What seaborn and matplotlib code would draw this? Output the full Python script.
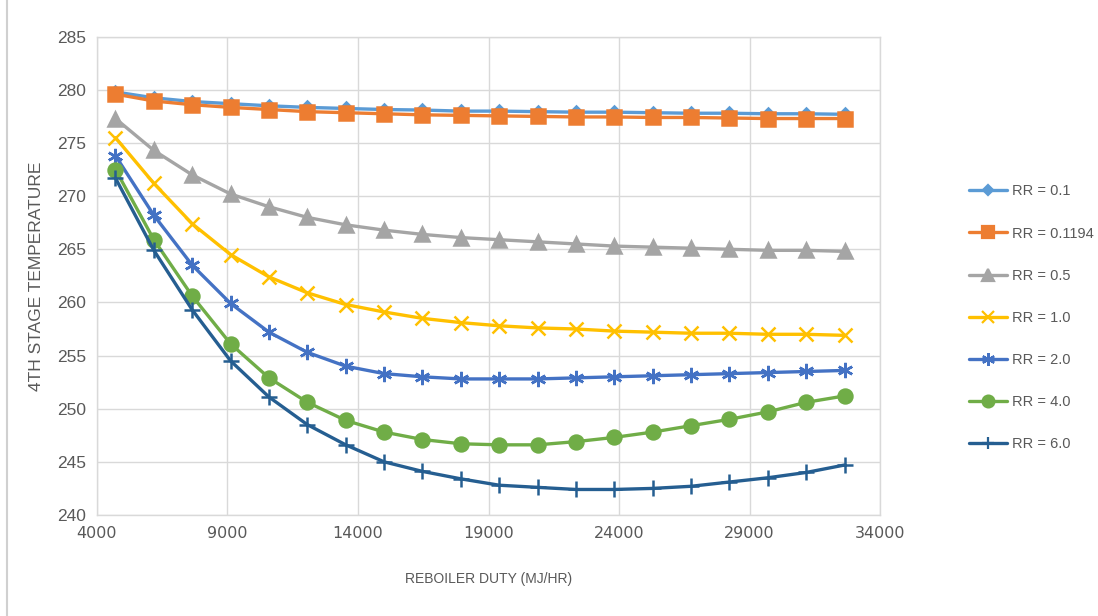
import matplotlib
matplotlib.use("Agg")
import matplotlib.pyplot as plt
from matplotlib.lines import Line2D
import pandas as pd
import seaborn as sns

sns.set_theme(style="white")
plt.rcParams["font.family"] = ["Liberation Sans", "DejaVu Sans"]

# reboiler duty (MJ/hr)
duty = [4710, 6180, 7650, 9120, 10590, 12060, 13530, 15000, 16470, 17940,
        19410, 20880, 22350, 23820, 25290, 26760, 28230, 29700, 31170, 32640]

rr_01 = [279.8, 279.25, 278.9, 278.7, 278.5, 278.35, 278.25, 278.15, 278.1, 278.0,
         278.0, 277.95, 277.9, 277.9, 277.85, 277.8, 277.8, 277.75, 277.75, 277.7]
rr_01194 = [279.6, 278.95, 278.6, 278.35, 278.15, 277.95, 277.85, 277.75, 277.65, 277.6,
            277.55, 277.5, 277.45, 277.45, 277.4, 277.4, 277.35, 277.3, 277.3, 277.3]
rr_05 = [277.3, 274.3, 272.0, 270.2, 269.0, 268.0, 267.3, 266.8, 266.4, 266.1,
         265.9, 265.7, 265.5, 265.3, 265.2, 265.1, 265.0, 264.9, 264.9, 264.8]
rr_1 = [275.5, 271.2, 267.4, 264.5, 262.4, 260.9, 259.8, 259.1, 258.5, 258.1,
        257.8, 257.6, 257.5, 257.3, 257.2, 257.1, 257.1, 257.0, 257.0, 256.9]
rr_2 = [273.8, 268.2, 263.5, 259.9, 257.2, 255.3, 254.0, 253.3, 253.0, 252.8,
        252.8, 252.8, 252.9, 253.0, 253.1, 253.2, 253.3, 253.4, 253.5, 253.6]
rr_4 = [272.5, 265.9, 260.6, 256.1, 252.9, 250.6, 248.9, 247.8, 247.1, 246.7,
        246.6, 246.6, 246.9, 247.3, 247.8, 248.4, 249.0, 249.7, 250.6, 251.2]
rr_6 = [271.7, 264.9, 259.3, 254.5, 251.1, 248.5, 246.6, 245.0, 244.1, 243.4,
        242.8, 242.6, 242.4, 242.4, 242.5, 242.7, 243.1, 243.5, 244.0, 244.7]

labels = ["RR = 0.1", "RR = 0.1194", "RR = 0.5", "RR = 1.0", "RR = 2.0", "RR = 4.0", "RR = 6.0"]
series = [rr_01, rr_01194, rr_05, rr_1, rr_2, rr_4, rr_6]
colors = ["#5B9BD5", "#ED7D31", "#A5A5A5", "#FFC000", "#4472C4", "#70AD47", "#255E91"]
markers = ["D", "s", "^", "x", (6, 2, 0), "o", "+"]
msizes = [6, 10, 10, 10, 11, 10, 11]

df = pd.DataFrame({lab: vals for lab, vals in zip(labels, series)})
df["duty"] = duty
long_df = df.melt(id_vars="duty", var_name="series", value_name="temp")

fig = plt.figure(figsize=(10.98, 6.16), dpi=100)
ax = fig.add_axes([0.0883, 0.164, 0.7132, 0.7764])

handles = []
for lab, col, mk, ms in zip(labels, colors, markers, msizes):
    sub = long_df[long_df["series"] == lab]
    sns.lineplot(data=sub, x="duty", y="temp", ax=ax, color=col, linewidth=2.4,
                 marker=mk, markersize=ms, markeredgewidth=1.8,
                 markeredgecolor=col, markerfacecolor=col, legend=False)
    handles.append(Line2D([0], [0], color=col, linewidth=2.4, marker=mk,
                          markersize=ms * 0.85, markeredgewidth=1.6,
                          markeredgecolor=col, markerfacecolor=col))

ax.set_xlim(4000, 34000)
ax.set_ylim(240, 285)
ax.set_xticks(range(4000, 34001, 5000))
ax.set_yticks(range(240, 286, 5))
ax.grid(True, color="#D9D9D9", linewidth=1.0)
ax.set_axisbelow(True)
for sp in ax.spines.values():
    sp.set_color("#D9D9D9")
    sp.set_linewidth(1.0)
ax.tick_params(length=0, labelsize=12.5, labelcolor="#595959", pad=8)
for t in ax.get_xticklabels():
    t.set_fontfamily(["DejaVu Sans"])
    t.set_fontsize(11.5)
ax.set_xlabel("REBOILER DUTY (MJ/HR)", fontsize=10, color="#595959", labelpad=22)
ax.set_ylabel("4TH STAGE TEMPERATURE", fontsize=12.5, color="#595959", labelpad=9)

ax.legend(handles, labels, loc="upper left", bbox_to_anchor=(0.871, 0.722),
          bbox_transform=fig.transFigure, frameon=False, fontsize=10.5,
          labelcolor="#595959", handlelength=2.6, handletextpad=0.3,
          labelspacing=1.93)

fig.add_artist(Line2D([0.0065, 0.0065], [0.0, 1.0], color="#D0D0D0", linewidth=1.5,
                      transform=fig.transFigure))

fig.savefig("out.png", dpi=100)
